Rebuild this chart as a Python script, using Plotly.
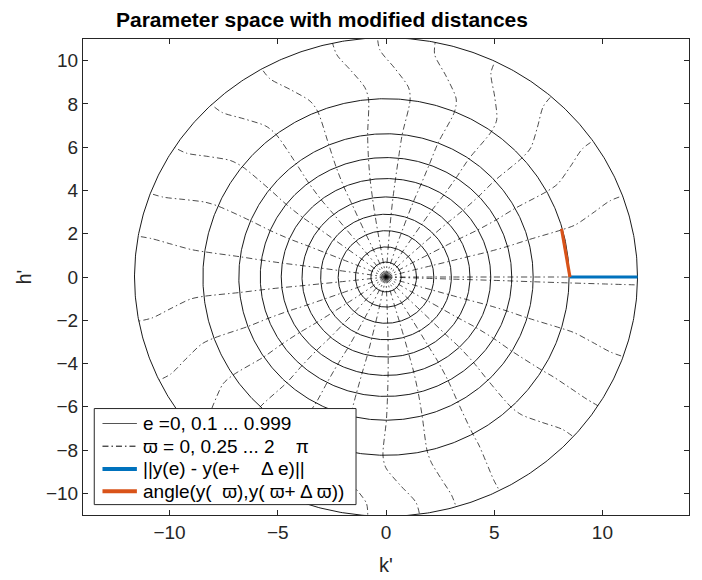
import numpy as np
import plotly.graph_objects as go

# ---- data ----
e_levels = [0.1, 0.2, 0.3, 0.4, 0.5, 0.6, 0.7, 0.8, 0.9, 0.999]
ring_rx = [0.70, 1.41, 2.21, 3.02, 3.88, 4.84, 5.81, 6.80, 8.46, 11.62]
ring_ry = [0.69, 1.39, 2.14, 2.90, 3.70, 4.55, 5.52, 6.62, 8.24, 11.06]
varpi = [0.25 * i for i in range(26)]          # 0, 0.25 ... 6.25 rad
# angular offset (deg) of each varpi line where it crosses the e=0.9 ring and the e=0.999 ring
off_e09 = [0, 1.1, 0, -1, -2.5, -3.6, -3.5, -4.8, -2.7, -2, -1.5, -1, 0,
           0, -0.5, -1.5, -2.5, -3, -3, -3.1, -3.5, -2.5, -2, -1, -0.5, 0]
off_out = [0, 5.5, 6, 6, 7, 7.1, 6, 2, 5, 5, 4, 2, -1.7,
           4.4, 5, 6, 6, 7, 8, 5.5, -0.3, -4, 3, -2, -3.2, 0]
# where the bend between the two outer rings happens (fraction of the gap, fraction of the turn)
bend_gap = [0.0, 0.2, 0.5, 0.8, 1.0]
bend_turn = [0.0, 0.1, 0.55, 0.95, 1.0]
blue_k = [8.50, 11.63]
blue_h = [0.0, 0.0]
orange_k = [8.50, 8.11]
orange_h = [0.0, 2.23]

legend_labels = ["e =0, 0.1 ... 0.999",
                 "\u03d6 = 0, 0.25 ... 2    \u03c0",
                 "||y(e) - y(e+    \u0394 e)||",
                 "angle(y(  \u03d6),y( \u03d6+ \u0394 \u03d6))"]

BLACK = "#000000"
BLUE = "#0072BD"
ORANGE = "#D95319"
FONT = "Liberation Sans, Arial, Helvetica"
DASHDOT = "6px,3px,1.5px,3px"
fig = go.Figure()

t = np.linspace(0, 2 * np.pi, 721)
for i, (rx, ry) in enumerate(zip(ring_rx, ring_ry)):
    fig.add_trace(go.Scatter(x=rx * np.cos(t), y=ry * np.sin(t), mode="lines",
                             line=dict(color=BLACK, width=0.9),
                             name=legend_labels[0], showlegend=False, hoverinfo="skip"))

rx_in = np.array([0.0] + ring_rx[:-1])
ry_in = np.array([0.0] + ring_ry[:-1])
for j, w in enumerate(varpi):
    o1 = np.radians(off_e09[j])
    o2 = np.radians(off_out[j])
    scale = (rx_in / ring_rx[8]) ** 2
    ang_in = w + o1 * scale
    xs = list(rx_in * np.cos(ang_in))
    ys = list(ry_in * np.sin(ang_in))
    for g, b in zip(bend_gap[1:], bend_turn[1:]):
        rx = ring_rx[8] + g * (ring_rx[9] - ring_rx[8])
        ry = ring_ry[8] + g * (ring_ry[9] - ring_ry[8])
        a = w + o1 + b * (o2 - o1)
        xs.append(rx * np.cos(a))
        ys.append(ry * np.sin(a))
    fig.add_trace(go.Scatter(x=xs, y=ys, mode="lines",
                             line=dict(color=BLACK, width=0.7, dash=DASHDOT,
                                       shape="spline", smoothing=0.8),
                             name=legend_labels[1], showlegend=False, hoverinfo="skip"))

fig.add_trace(go.Scatter(x=blue_k, y=blue_h, mode="lines",
                         line=dict(color=BLUE, width=3.2),
                         name=legend_labels[2], showlegend=False))
fig.add_trace(go.Scatter(x=orange_k, y=orange_h, mode="lines",
                         line=dict(color=ORANGE, width=3.2),
                         name=legend_labels[3], showlegend=False))

# ---- legend box drawn in the lower-left corner (axis units) ----
box = dict(x0=-13.48, x1=-1.385, y0=-10.52, y1=-6.08)
row_y = [-6.77, -7.82, -8.87, -9.90]
sample_x = (-13.10, -11.51)
text_x = -11.30
sample_styles = [dict(color="#555555", width=1.2),
                 dict(color=BLACK, width=1.0, dash=DASHDOT),
                 dict(color=BLUE, width=4),
                 dict(color=ORANGE, width=4)]
shapes = [dict(type="rect", xref="x", yref="y", layer="above", fillcolor="white",
               line=dict(color="#262626", width=1), **box)]
for yy, st in zip(row_y, sample_styles):
    shapes.append(dict(type="line", xref="x", yref="y", layer="above",
                       x0=sample_x[0], x1=sample_x[1], y0=yy, y1=yy, line=st))
annotations = [dict(x=text_x, y=yy, xref="x", yref="y", text=lab, showarrow=False,
                    xanchor="left", yanchor="middle",
                    font=dict(family=FONT, size=19, color="black"))
               for yy, lab in zip(row_y, legend_labels)]
# axis titles placed as fixed annotations so the plot area does not move
annotations.append(dict(x=0.5, y=-0.105, xref="paper", yref="paper", text="k'",
                        showarrow=False, xanchor="center", yanchor="middle",
                        font=dict(family=FONT, size=20, color="#262626")))
annotations.append(dict(x=-0.098, y=0.5, xref="paper", yref="paper", text="h'",
                        showarrow=False, xanchor="center", yanchor="middle", textangle=-90,
                        font=dict(family=FONT, size=20, color="#262626")))

axis_common = dict(showgrid=False, zeroline=False, showline=True, mirror="ticks",
                   linecolor="#262626", linewidth=1, ticks="inside", ticklen=5,
                   automargin=False,
                   tickcolor="#262626", tickfont=dict(family=FONT, size=19, color="#262626"))

# page body has an 8px margin, so the figure is 8px smaller and shifted
fig.update_layout(
    width=694, height=572,
    paper_bgcolor="white", plot_bgcolor="white",
    margin=dict(l=75, r=13, t=31, b=65),
    title=dict(text="<b>Parameter space with modified distances</b>",
               xref="container", x=0.1556, xanchor="left",
               yref="container", y=0.992, yanchor="top",
               font=dict(family=FONT, size=21, color="black")),
    xaxis=dict(range=[-14, 14], tickvals=[-10, -5, 0, 5, 10], **axis_common),
    yaxis=dict(range=[-11, 11], tickvals=[-10, -8, -6, -4, -2, 0, 2, 4, 6, 8, 10],
               **axis_common),
    shapes=shapes,
    annotations=annotations,
    showlegend=False,
)

fig.write_html("out.html")
